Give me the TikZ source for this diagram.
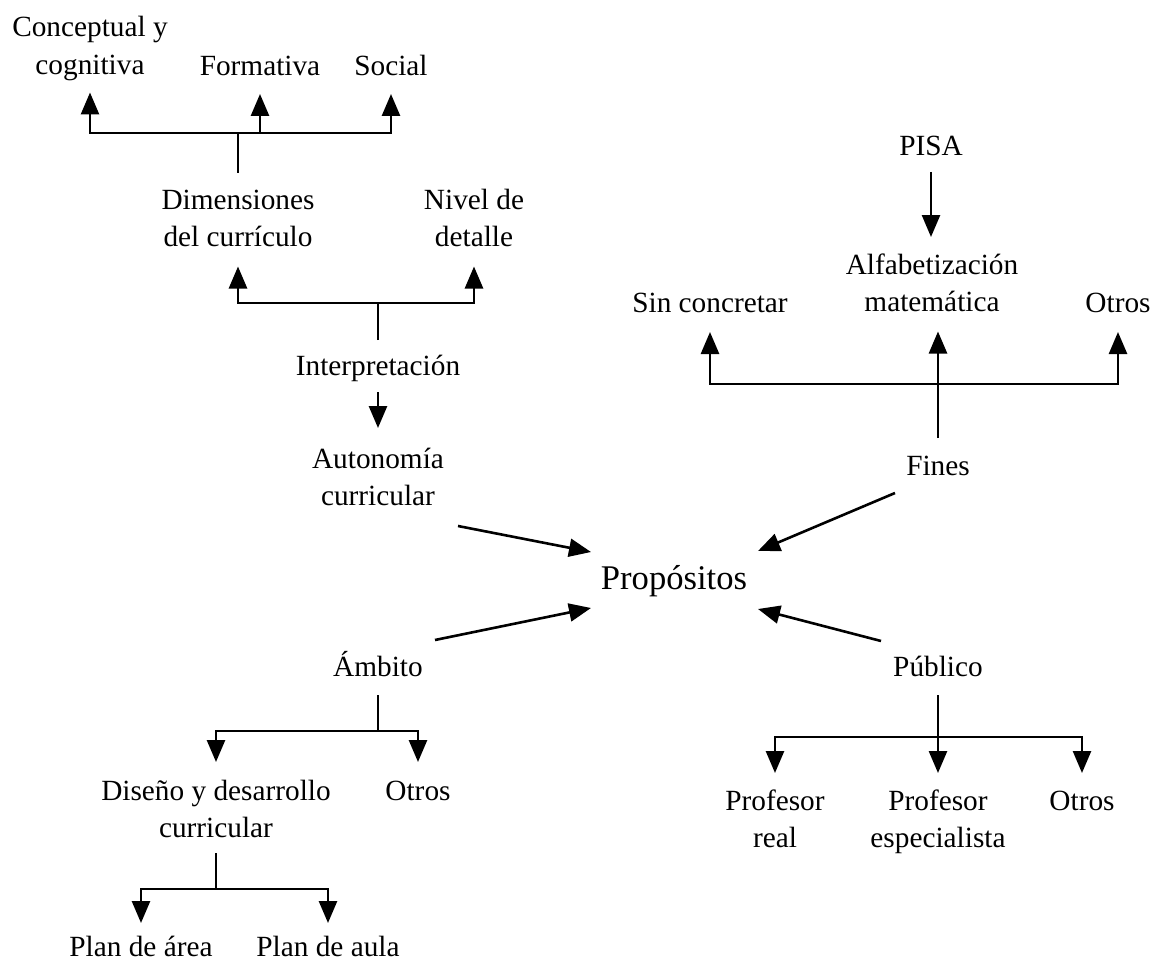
\documentclass[tikz,border=0pt]{standalone}
\usepackage{fontspec}
\setmainfont{Liberation Serif}
\usetikzlibrary{arrows.meta}
% labels are set as one-column tabulars, so every line has the same
% strut (26.25pt above the baseline, 11.25pt below) and lines are 37.5pt apart
\newcommand\lbltext[1]{\begin{tabular}{@{}c@{}}#1\end{tabular}}
\tikzset{
  lbl/.style={inner sep=0pt, outer sep=0pt, anchor=north,
    font=\fontsize{29.3}{37.5}\selectfont},
  hub/.style={inner sep=0pt, outer sep=0pt, anchor=base,
    font=\fontsize{34.6}{42}\selectfont},
  ln/.style={line width=2.6pt},
  arr/.style={ln, -{Triangle[length=22pt,width=18pt]}},
}
\begin{document}
\begin{tikzpicture}[x=1pt,y=-1pt]
\useasboundingbox (0,0) rectangle (1152,963);

% central concept
\node[hub] (prop) at (674,589) {Propósitos};

% upper left: Autonomía curricular
\node[lbl] (concept) at (90,10.75)   {\lbltext{Conceptual y\\cognitiva}};
\node[lbl] (form)    at (260,49.75)  {\lbltext{Formativa}};
\node[lbl] (social)  at (391,49.75)  {\lbltext{Social}};
\node[lbl] (dim)     at (238,182.75) {\lbltext{Dimensiones\\del currículo}};
\node[lbl] (nivel)   at (474,182.75) {\lbltext{Nivel de\\detalle}};
\node[lbl] (interp)  at (378,348.75) {\lbltext{Interpretación}};
\node[lbl] (auto)    at (378,441.75) {\lbltext{Autonomía\\curricular}};

% upper right: Fines
\node[lbl] (pisa)    at (931,129.75)  {\lbltext{PISA}};
\node[lbl] (alfa)    at (932,247.75)  {\lbltext{Alfabetización\\matemática}};
\node[lbl] (sinc)    at (710,285.75)  {\lbltext{Sin concretar}};
\node[lbl] (otrosF)  at (1118,285.75) {\lbltext{Otros}};
\node[lbl] (fines)   at (938,448.75)  {\lbltext{Fines}};

% lower left: Ámbito
\node[lbl] (ambito)  at (378,649.75) {\lbltext{Ámbito}};
\node[lbl] (disenio) at (216,773.75) {\lbltext{Diseño y desarrollo\\curricular}};
\node[lbl] (otrosA)  at (418,773.75) {\lbltext{Otros}};
\node[lbl] (parea)   at (141,930.5)  {\lbltext{Plan de área}};
\node[lbl] (paula)   at (328,930.5)  {\lbltext{Plan de aula}};

% lower right: Público
\node[lbl] (publico) at (938,649.75)  {\lbltext{Público}};
\node[lbl] (preal)   at (775,783.75)  {\lbltext{Profesor\\real}};
\node[lbl] (pesp)    at (938,783.75)  {\lbltext{Profesor\\especialista}};
\node[lbl] (otrosP)  at (1082,783.75) {\lbltext{Otros}};

% junctions of the branching connectors
\coordinate (jDim)  at (238,133);
\coordinate (jInt)  at (378,303);
\coordinate (jFin)  at (938,384);
\coordinate (jAmb)  at (378,731);
\coordinate (jDis)  at (216,889);
\coordinate (jPub)  at (938,737);

% ports of the four arrows into Propósitos
\coordinate (autoOut) at (458,526);  \coordinate (propNW) at (591,552);
\coordinate (finOut)  at (895,493);  \coordinate (propNE) at (758,551);
\coordinate (ambOut)  at (435,640);  \coordinate (propSW) at (591,608);
\coordinate (pubOut)  at (881,641);  \coordinate (propSE) at (758,609);

% Dimensiones del currículo -> its three dimensions
\draw[ln, shorten <=9.75pt] (dim.north) -- (jDim);
\draw[arr, shorten >=6.75pt] (jDim) -| (concept.south);
\draw[arr, shorten >=6.75pt] (jDim) -| (form.south);
\draw[arr, shorten >=6.75pt] (jDim) -| (social.south);

% Interpretación -> Dimensiones / Nivel de detalle
\draw[ln, shorten <=8.75pt] (interp.north) -- (jInt);
\draw[arr, shorten >=8.75pt] (jInt) -| (dim.south);
\draw[arr, shorten >=8.75pt] (jInt) -| (nivel.south);

% Interpretación -> Autonomía curricular
\draw[arr, shorten <=5.75pt, shorten >=13.75pt] (interp.south) -- (auto.north);

% PISA -> Alfabetización matemática
\draw[arr, shorten <=4.75pt, shorten >=10.75pt] (pisa.south) -- (pisa.south |- alfa.north);

% Fines -> its three options
\draw[ln, shorten <=10.75pt] (fines.north) -- (jFin);
\draw[arr, shorten >=8.75pt] (jFin) -| (sinc.south);
\draw[arr, shorten >=8.75pt] (jFin) -- (jFin |- alfa.south);
\draw[arr, shorten >=8.75pt] (jFin) -| (otrosF.south);

% Ámbito -> its two options
\draw[ln, shorten <=7.75pt] (ambito.south) -- (jAmb);
\draw[arr, shorten >=11.75pt] (jAmb) -| (disenio.north);
\draw[arr, shorten >=11.75pt] (jAmb) -| (otrosA.north);

% Diseño y desarrollo curricular -> plans
\draw[ln, shorten <=4.25pt] (disenio.south) -- (jDis);
\draw[arr, shorten >=7.5pt] (jDis) -| (parea.north);
\draw[arr, shorten >=7.5pt] (jDis) -| (paula.north);

% Público -> its three audiences
\draw[ln, shorten <=7.75pt] (publico.south) -- (jPub);
\draw[arr, shorten >=10.75pt] (jPub) -| (preal.north);
\draw[arr, shorten >=10.75pt] (jPub) -- (pesp.north);
\draw[arr, shorten >=10.75pt] (jPub) -| (otrosP.north);

% the four aspects pointing to Propósitos
\draw[arr] (autoOut) -- (propNW);
\draw[arr] (finOut)  -- (propNE);
\draw[arr] (ambOut)  -- (propSW);
\draw[arr] (pubOut)  -- (propSE);
\end{tikzpicture}
\end{document}
